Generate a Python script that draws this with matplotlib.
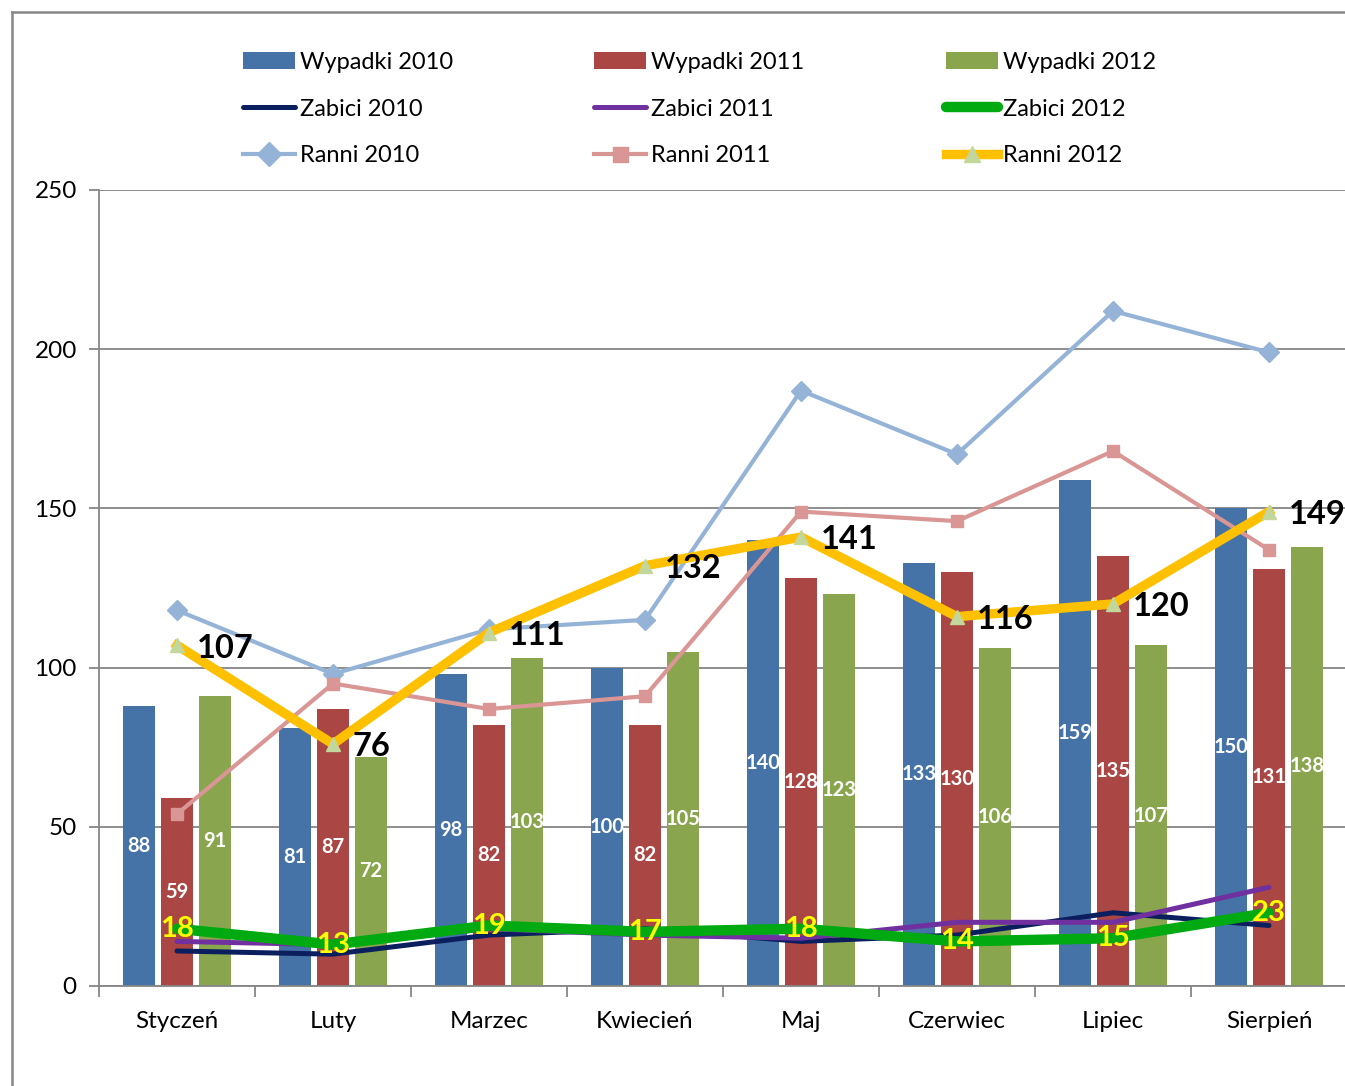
import matplotlib
matplotlib.use("Agg")
import matplotlib.pyplot as plt
from matplotlib.lines import Line2D
import numpy as np

plt.rcParams['font.family'] = ['Lato', 'DejaVu Sans']

months = ["Styczeń", "Luty", "Marzec", "Kwiecień", "Maj", "Czerwiec", "Lipiec", "Sierpień"]
wypadki_2010 = [88, 81, 98, 100, 140, 133, 159, 150]
wypadki_2011 = [59, 87, 82, 82, 128, 130, 135, 131]
wypadki_2012 = [91, 72, 103, 105, 123, 106, 107, 138]
zabici_2010 = [11, 10, 16, 18, 14, 16, 23, 19]
zabici_2011 = [14, 13, 18, 16, 15, 20, 20, 31]
zabici_2012 = [18, 13, 19, 17, 18, 14, 15, 23]
ranni_2010 = [118, 98, 112, 115, 187, 167, 212, 199]
ranni_2011 = [54, 95, 87, 91, 149, 146, 168, 137]
ranni_2012 = [107, 76, 111, 132, 141, 116, 120, 149]
y_ticks = [0, 50, 100, 150, 200, 250]

W, H = 1345, 1086
fig = plt.figure(figsize=(W / 100, H / 100), dpi=100)
fig.patch.set_facecolor("white")

# outer chart border
fig.add_artist(Line2D([12 / W, 12 / W], [0, 1 - 12 / H], color="#868686", lw=1.8, transform=fig.transFigure))
fig.add_artist(Line2D([12 / W, 1], [1 - 12 / H, 1 - 12 / H], color="#868686", lw=1.8, transform=fig.transFigure))

ax = fig.add_axes([99 / W, 100 / H, (1347 - 99) / W, 796 / H])
x = np.arange(len(months))
bw = 0.205
off = 0.2436

c_w10, c_w11, c_w12 = "#4572A7", "#AA4643", "#89A54E"
b1 = ax.bar(x - off, wypadki_2010, bw, color=c_w10, zorder=2, label="Wypadki 2010")
b2 = ax.bar(x, wypadki_2011, bw, color=c_w11, zorder=2, label="Wypadki 2011")
b3 = ax.bar(x + off, wypadki_2012, bw, color=c_w12, zorder=2, label="Wypadki 2012")

for bars, vals in ((b1, wypadki_2010), (b2, wypadki_2011), (b3, wypadki_2012)):
    for rect, v in zip(bars, vals):
        ax.text(rect.get_x() + rect.get_width() / 2, v / 2, str(v), ha="center", va="center",
                color="white", fontsize=14.5, fontweight="bold", zorder=10)

lz10, = ax.plot(x, zabici_2010, color="#0B1F5E", lw=3.6, zorder=3, label="Zabici 2010", solid_capstyle="round")
lz11, = ax.plot(x, zabici_2011, color="#7030A0", lw=3.6, zorder=3, label="Zabici 2011", solid_capstyle="round")
lz12, = ax.plot(x, zabici_2012, color="#00AA10", lw=7.5, zorder=4, label="Zabici 2012", solid_capstyle="round")

lr10, = ax.plot(x, ranni_2010, color="#95B3D7", lw=3, marker="D", ms=10, mfc="#95B3D7", mec="#95B3D7",
                zorder=5, label="Ranni 2010")
lr11, = ax.plot(x, ranni_2011, color="#D99694", lw=3, marker="s", ms=9, mfc="#D99694", mec="#D99694",
                zorder=5, label="Ranni 2011")
lr12, = ax.plot(x, ranni_2012, color="#FFC000", lw=6.8, marker="^", ms=10, mfc="#C3D69B", mec="#C3D69B",
                zorder=6, label="Ranni 2012")

for xi, v in zip(x, ranni_2012):
    ax.annotate(str(v), (xi, v), xytext=(14, -2), textcoords="offset points", ha="left", va="center",
                fontsize=23.5, fontweight="bold", color="black", zorder=11)
for xi, v in zip(x, zabici_2012):
    ax.text(xi, v, str(v), ha="center", va="center", fontsize=21, fontweight="bold", color="#FFFF00", zorder=11)

ax.set_xlim(-0.5, 7.5)
ax.set_ylim(0, 250)
ax.set_yticks(y_ticks)
ax.set_yticklabels([str(t) for t in y_ticks])
ax.set_xticks(x)
ax.set_xticklabels(months)
ax.set_xticks(np.arange(-0.5, 8, 1), minor=True)
ax.tick_params(axis="x", which="major", length=0, pad=18, labelsize=17.5)
ax.tick_params(axis="x", which="minor", length=8, width=1.3, color="#868686")
ax.tick_params(axis="y", which="major", length=7, width=1.3, color="#868686", labelsize=17.5, pad=9)
ax.grid(axis="y", color="#868686", lw=1.3, zorder=0)
ax.set_axisbelow(True)
for s in ("top", "right"):
    ax.spines[s].set_visible(False)
for s in ("left", "bottom"):
    ax.spines[s].set_color("#868686")
    ax.spines[s].set_linewidth(1.3)

handles = [b1, lz10, lr10, b2, lz11, lr11, b3, lz12, lr12]
labels = [h.get_label() for h in handles]
fig.legend(handles, labels, ncol=3, loc="upper left", bbox_to_anchor=(243 / W, 1 - 52 / H),
           frameon=False, fontsize=17, handlelength=2.2, handletextpad=0.2, columnspacing=6.0,
           labelspacing=1.09, borderpad=0, borderaxespad=0, markerscale=1.2)

fig.savefig("out.png", dpi=100)
